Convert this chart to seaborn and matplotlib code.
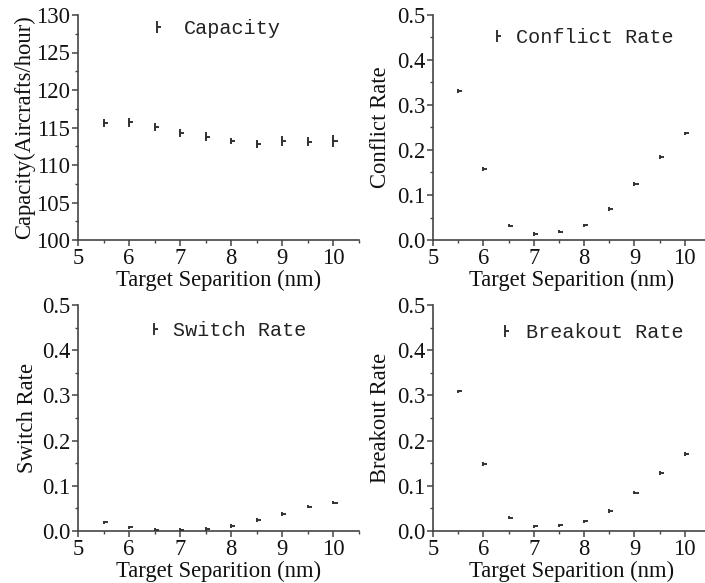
import numpy as np
import pandas as pd
import matplotlib
matplotlib.use("Agg")
import matplotlib.pyplot as plt
from matplotlib.path import Path
from matplotlib.markers import MarkerStyle
from matplotlib.lines import Line2D
from matplotlib.ticker import MultipleLocator
import seaborn as sns

# ---------------- data ----------------
separation = [5.5, 6.0, 6.5, 7.0, 7.5, 8.0, 8.5, 9.0, 9.5, 10.0]
capacity = [115.6, 115.7, 115.1, 114.3, 113.8, 113.2, 112.8, 113.2, 113.1, 113.2]
capacity_err = [0.55, 0.6, 0.5, 0.55, 0.6, 0.4, 0.55, 0.65, 0.6, 0.75]
conflict_rate = [0.331, 0.158, 0.032, 0.013, 0.0185, 0.0326, 0.069, 0.124, 0.184, 0.237]
switch_rate = [0.019, 0.008, 0.002, 0.003, 0.0045, 0.011, 0.024, 0.038, 0.054, 0.063]
breakout_rate = [0.309, 0.148, 0.0295, 0.0103, 0.0125, 0.0214, 0.044, 0.085, 0.128, 0.171]

x_label = "Target Separition (nm)"
panels = [
    ("Capacity", "Capacity(Aircrafts/hour)", capacity, capacity_err),
    ("Conflict Rate", "Conflict Rate", conflict_rate, None),
    ("Switch Rate", "Switch Rate", switch_rate, None),
    ("Breakout Rate", "Breakout Rate", breakout_rate, None),
]

# ---------------- style ----------------
sns.set_style("ticks")
plt.rcParams["font.family"] = ["Liberation Serif", "DejaVu Serif"]
plt.rcParams["axes.edgecolor"] = "#444444"
plt.rcParams["xtick.color"] = "#444444"
plt.rcParams["ytick.color"] = "#444444"
plt.rcParams["xtick.labelcolor"] = "#111111"
plt.rcParams["ytick.labelcolor"] = "#111111"

INK = "#333333"
FS = 16.3
W, H = 705, 583
fig = plt.figure(figsize=(W / 100, H / 100), dpi=100)

# axes rectangles in pixels: left, top, right, bottom
rects = [
    (78, 15, 359, 240),
    (433, 15, 710, 240),
    (78, 305, 359, 531),
    (433, 305, 710, 531),
]
# legend anchors (axes coords) and text pads
leg_pos = [(0.246, 0.938, 0.82), (0.195, 0.902, 0.45), (0.236, 0.886, 0.42), (0.225, 0.879, 0.53)]
ylab_pad = [1, 4, 3, 4]

data_marker = MarkerStyle(Path([(0, -0.45), (0, 0.45), (0, 0), (1, 0)],
                               [Path.MOVETO, Path.LINETO, Path.MOVETO, Path.LINETO]))
legend_marker = MarkerStyle(Path([(0, -1), (0, 1), (0, 0), (0.6, 0)],
                                 [Path.MOVETO, Path.LINETO, Path.MOVETO, Path.LINETO]))

for i, (name, ylabel, values, errs) in enumerate(panels):
    l, t, r, b = rects[i]
    ax = fig.add_axes([l / W, (H - b) / H, (r - l) / W, (b - t) / H])
    df = pd.DataFrame({"x": separation, "y": values})
    if errs is not None:
        ax.errorbar(separation, values, yerr=errs, fmt="none", ecolor=INK,
                    elinewidth=1.4, capsize=0, zorder=2)
    sns.scatterplot(data=df, x="x", y="y", ax=ax, marker=data_marker, s=34,
                    facecolor="none", edgecolor=INK, linewidth=1.4, legend=False, zorder=3)
    ax.set_xlim(5, 10.5)
    if i == 0:
        ax.set_ylim(100, 130)
        ax.yaxis.set_major_locator(MultipleLocator(5))
        ax.yaxis.set_minor_locator(MultipleLocator(2.5))
    else:
        ax.set_ylim(0, 0.5)
        ax.yaxis.set_major_locator(MultipleLocator(0.1))
        ax.yaxis.set_minor_locator(MultipleLocator(0.05))
        ax.yaxis.set_major_formatter(plt.FormatStrFormatter("%.1f"))
    ax.xaxis.set_major_locator(MultipleLocator(1))
    ax.xaxis.set_minor_locator(MultipleLocator(0.5))
    ax.tick_params(which="major", direction="out", length=4, width=1.1, pad=1.5, labelsize=FS)
    ax.tick_params(which="minor", direction="out", length=2.5, width=1.0)
    for side in ("top", "right"):
        ax.spines[side].set_visible(False)
    for side in ("left", "bottom"):
        ax.spines[side].set_linewidth(1.2)
    ax.set_xlabel(x_label, fontsize=FS, labelpad=0.5, color="#111111")
    ax.set_ylabel(ylabel, fontsize=FS, labelpad=ylab_pad[i], color="#111111")

    lx, ly, tp = leg_pos[i]
    handle = Line2D([], [], linestyle="none", marker=legend_marker, markersize=9,
                    markeredgecolor=INK, markerfacecolor="none", markeredgewidth=1.4)
    ax.legend([handle], [name], loc="center left", bbox_to_anchor=(lx, ly),
              frameon=False, borderpad=0, borderaxespad=0, handlelength=1.0,
              handletextpad=tp, prop={"family": "Liberation Mono", "size": 14.5})
    for txt in ax.get_legend().get_texts():
        txt.set_color("#222222")

fig.savefig("out.png", dpi=100)
